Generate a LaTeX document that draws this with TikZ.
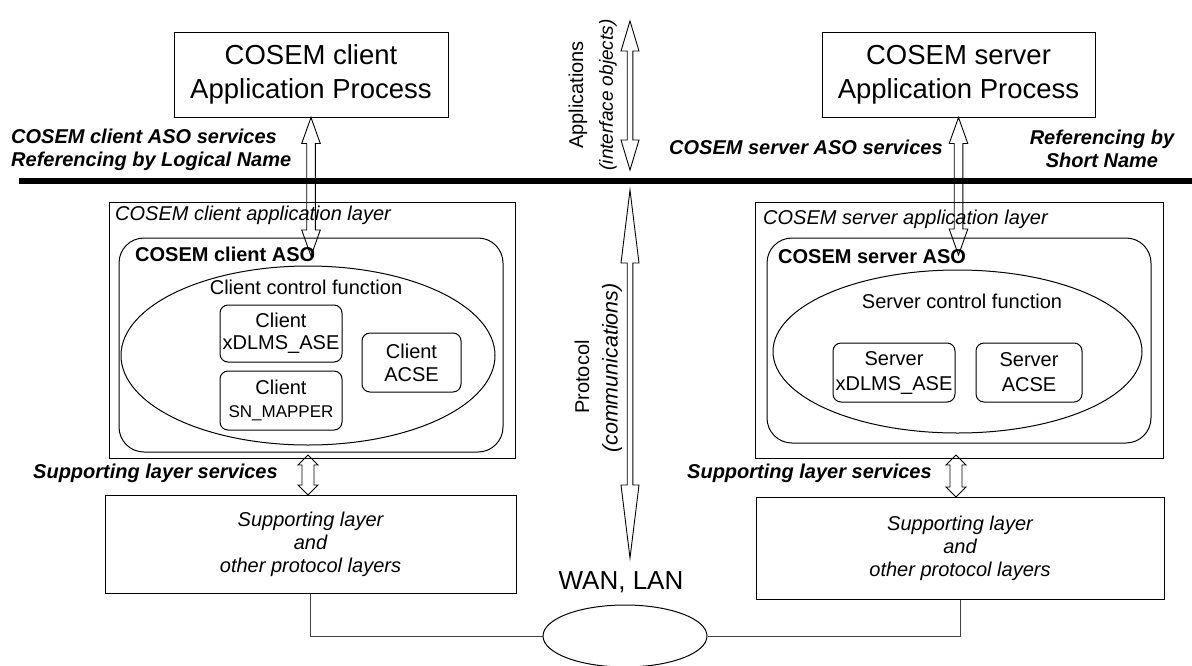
\documentclass[tikz,border=0pt]{standalone}
\usepackage{fontspec}
\setmainfont{Liberation Sans}
\usetikzlibrary{calc,shapes.geometric}

\tikzset{
  every node/.style={font=\fontsize{20}{23}\selectfont, inner sep=0pt, align=center},
  box/.style={draw, line width=1pt},
  sbox/.style={box, rounded corners=8pt},
  bigtxt/.style={font=\fontsize{27.5}{34}\selectfont},
  itl/.style={font=\fontsize{20}{23}\selectfont\itshape},
  bld/.style={font=\fontsize{20}{23}\selectfont\bfseries},
  bit/.style={font=\fontsize{20}{23}\selectfont\bfseries\itshape},
  link/.style={draw=black!75, line width=1pt},
  % hollow double-headed block arrow: head half width / head length / shaft half width
  arrowdims/.code args={#1/#2/#3}{\def\ahw{#1}\def\ahl{#2}\def\asw{#3}},
  hollowarrow/.style={draw, line width=0.9pt, line join=miter, arrowdims=#1,
    to path={let \p1=(\tikztostart), \p2=(\tikztotarget) in
      (\x1,\y1) -- (\x1+\ahw pt,\y1-\ahl pt) -- (\x1+\asw pt,\y1-\ahl pt)
      -- (\x1+\asw pt,\y2+\ahl pt) -- (\x1+\ahw pt,\y2+\ahl pt) -- (\x1,\y2)
      -- (\x1-\ahw pt,\y2+\ahl pt) -- (\x1-\asw pt,\y2+\ahl pt)
      -- (\x1-\asw pt,\y1-\ahl pt) -- (\x1-\ahw pt,\y1-\ahl pt) -- cycle}},
}

\begin{document}
\begin{tikzpicture}[x=1pt,y=-1pt]
\fill[white] (0,0) rectangle (1192,665);
\useasboundingbox (0,0) rectangle (1192,665);

% application processes
\node[box, bigtxt, minimum width=274, minimum height=85] (cap) at (311,74.5) {COSEM client\\Application Process};
\node[box, bigtxt, minimum width=273, minimum height=85] (sap) at (958.5,74.5) {COSEM server\\Application Process};

% separator between applications and protocol
\coordinate (sepL) at (19,181);
\coordinate (sepR) at (1192,181);
\draw[line width=6pt] (sepL) -- (sepR);

% service labels
\node[bit, anchor=west, align=left] (cservlbl) at (11,149.5) {COSEM client ASO services\\Referencing by Logical Name};
\node[bit, anchor=west] (sservlbl) at (669,147) {COSEM server ASO services};
\node[bit] (snlbl) at (1102,148.5) {Referencing by\\Short Name};

% client application layer
\node[box, minimum width=406, minimum height=256] (clayer) at (312,330) {};
\node[itl, anchor=west] (clayerlbl) at (115,215) {COSEM client application layer};
\node[box, rounded corners=25pt, minimum width=384, minimum height=214] (caso) at (311,345) {};
\node[bld, anchor=west] (casolbl) at (135,254) {COSEM client ASO};
\node[box, ellipse, minimum width=374, minimum height=179] (cctl) at (308,355.5) {};
\node (cctllbl) at (306,287) {Client control function};
\node[sbox, font=\fontsize{20}{22}\selectfont, minimum width=122, minimum height=57] (cx) at (281,333.5) {Client\\xDLMS\_ASE};
\node[sbox, minimum width=122, minimum height=59] (csn) at (281,400.5) {Client\\{\fontsize{17}{23}\selectfont SN\_MAPPER}};
\node[sbox, minimum width=99, minimum height=59] (cacse) at (411.5,362.5) {Client\\ACSE};

% server application layer
\node[box, minimum width=408, minimum height=256] (slayer) at (959,330) {};
\node[itl, anchor=west] (slayerlbl) at (763,219) {COSEM server application layer};
\node[box, rounded corners=25pt, minimum width=384, minimum height=205] (saso) at (959,340.5) {};
\node[bld, anchor=west] (sasolbl) at (778,257) {COSEM server ASO};
\node[box, ellipse, minimum width=369, minimum height=163] (sctl) at (957.5,351.5) {};
\node (sctllbl) at (962,301) {Server control function};
\node[sbox, font=\fontsize{20}{25}\selectfont, minimum width=122, minimum height=59] (sx) at (894,372.5) {Server\\xDLMS\_ASE};
\node[sbox, font=\fontsize{20}{25}\selectfont, minimum width=106, minimum height=59] (sacse) at (1029,372.5) {Server\\ACSE};

% supporting layers
\node[box, itl, minimum width=411, minimum height=98] (csup) at (310.5,544) {Supporting layer\\and\\other protocol layers};
\node[box, itl, minimum width=408, minimum height=102] (ssup) at (960,548) {Supporting layer\\and\\other protocol layers};
\node[bit, anchor=west] (csuplbl) at (33,473) {Supporting layer services};
\node[bit, anchor=west] (ssuplbl) at (687,473) {Supporting layer services};

% network
\node[draw, ellipse, line width=1pt, minimum width=164, minimum height=62] (wan) at (625,636) {};
\node[font=\fontsize{26}{30}\selectfont] (wanlbl) at (621,582) {WAN, LAN};
\draw[link] (csup.south) |- (wan.west);
\draw[link] (ssup.south) |- (wan.east);

% central axis labels
\node[rotate=90] (applbl) at (578,95) {Applications};
\node[rotate=90, font=\fontsize{19}{22}\selectfont\itshape] (ifolbl) at (608,95) {(interface objects)};
\node[rotate=90] (protlbl) at (582,377) {Protocol};
\node[rotate=90, font=\fontsize{21.5}{24}\selectfont\itshape] (comlbl) at (612,368) {(communications)};

% block arrows
\coordinate (ctip) at (311,256);
\coordinate (stip) at (958.5,255);
\draw[hollowarrow=9.3/26/4.3] (cap.south) to (ctip);
\draw[hollowarrow=9.3/26/4.3] (sap.south) to (stip);

\coordinate (appT) at (630,21);
\coordinate (appB) at (630,170);
\coordinate (protT) at (630,190);
\coordinate (protB) at (630,558);
\draw[hollowarrow=9/30/2.8] (appT) to (appB);
\draw[hollowarrow=9/73/2.8] (protT) to (protB);

\coordinate (csA) at (308,455);
\coordinate (csB) at (308,495);
\coordinate (ssA) at (956,455);
\coordinate (ssB) at (956,497);
\draw[hollowarrow=10/10/6] (csA) to (csB);
\draw[hollowarrow=10/10/6] (ssA) to (ssB);
\end{tikzpicture}
\end{document}
